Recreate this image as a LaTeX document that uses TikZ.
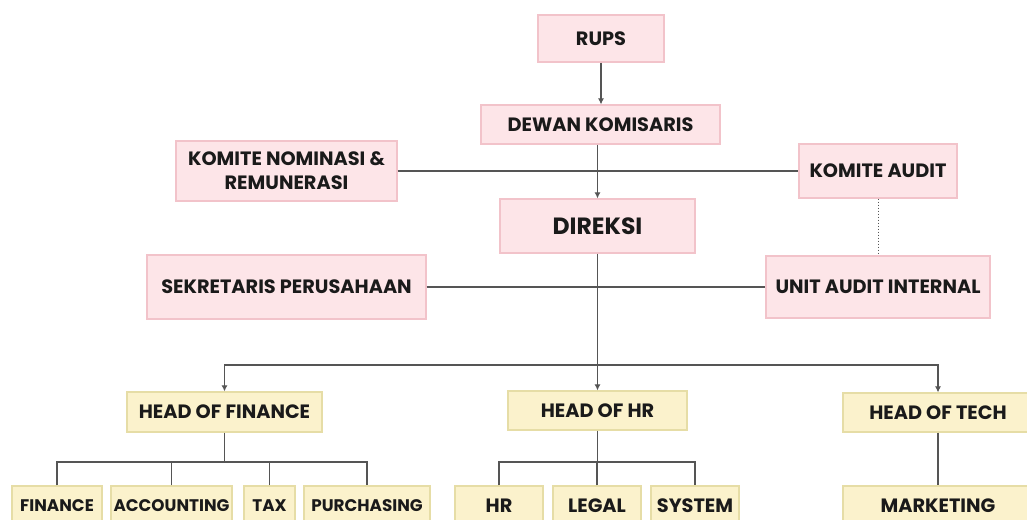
\documentclass[tikz,border=0pt]{standalone}
\usepackage{fontspec}
\setmainfont{Poppins}
\usetikzlibrary{arrows.meta}
\definecolor{pinkfill}{HTML}{FDE5E8}
\definecolor{pinkline}{HTML}{F2C3CA}
\definecolor{yelfill}{HTML}{FBF2CC}
\definecolor{yelline}{HTML}{E6DDA6}
\definecolor{conn}{HTML}{555555}
\definecolor{txt}{HTML}{1A1A1A}
\tikzset{
  box/.style={draw, line width=1.2pt, inner sep=0pt, align=center, text=txt},
  pinkbox/.style={box, fill=pinkfill, draw=pinkline},
  yelbox/.style={box, fill=yelfill, draw=yelline},
  fs/.style={font=\bfseries\fontsize{#1}{24}\selectfont},
  conline/.style={draw=conn, line width=1.1pt},
  arr/.style={conline, -{Latex[length=6pt,width=6pt]}},
}
\begin{document}
\begin{tikzpicture}[x=1pt,y=-1pt]
\useasboundingbox (0,0) rectangle (1027,519);
\clip (0,0) rectangle (1027,519);
\fill[white] (0,0) rectangle (1027,519);
% top pink boxes
\node[pinkbox, fs=19.3, minimum width=126pt, minimum height=47pt] (rups) at (601,38.5) {RUPS};
\node[pinkbox, fs=19.3, minimum width=239pt, minimum height=39pt] (dewan) at (600.5,124.5) {DEWAN KOMISARIS};
\node[pinkbox, fs=19.3, minimum width=221pt, minimum height=60pt] (knr) at (286.5,171) {KOMITE NOMINASI \&\\REMUNERASI};
\node[pinkbox, fs=19.3, minimum width=158pt, minimum height=54pt] (ka) at (878,171) {KOMITE AUDIT};
\node[pinkbox, fs=23.5, minimum width=195pt, minimum height=54pt] (direksi) at (597.5,226) {DIREKSI};
\node[pinkbox, fs=19.3, minimum width=279pt, minimum height=64pt] (sek) at (286.5,287) {SEKRETARIS PERUSAHAAN};
\node[pinkbox, fs=19.3, minimum width=224pt, minimum height=62pt] (uai) at (878,287) {UNIT AUDIT INTERNAL};
% heads
\node[yelbox, fs=19.3, minimum width=195pt, minimum height=40pt] (hof) at (224.5,412) {HEAD OF FINANCE};
\node[yelbox, fs=19.3, minimum width=179pt, minimum height=39pt] (hohr) at (597.5,410.5) {HEAD OF HR};
\node[yelbox, fs=19.3, minimum width=190pt, minimum height=39pt] (hot) at (938,412.5) {HEAD OF TECH};
% bottom row
\node[yelbox, fs=16.8, minimum width=90pt, minimum height=40pt] (finance) at (57,506) {FINANCE};
\node[yelbox, fs=16.8, minimum width=121pt, minimum height=40pt] (accounting) at (171.5,506) {ACCOUNTING};
\node[yelbox, fs=16.8, minimum width=51pt, minimum height=40pt] (tax) at (269.5,506) {TAX};
\node[yelbox, fs=16.8, minimum width=126pt, minimum height=40pt] (purchasing) at (367,506) {PURCHASING};
\node[yelbox, fs=19.3, minimum width=88pt, minimum height=40pt] (hr) at (499,506) {HR};
\node[yelbox, fs=19.3, minimum width=88pt, minimum height=40pt] (legal) at (597,506) {LEGAL};
\node[yelbox, fs=19.3, minimum width=88pt, minimum height=40pt] (system) at (695,506) {SYSTEM};
\node[yelbox, fs=19.3, minimum width=190pt, minimum height=40pt] (marketing) at (938,506) {MARKETING};
% connectors
\draw[arr] (rups.south) -- (rups.south |- dewan.north);
\draw[conline] (knr.east) -- (ka.west);
\draw[arr] (direksi.north |- dewan.south) -- (direksi.north);
\draw[conn, line width=1pt, dotted] (ka.south) -- (uai.north);
\draw[conline] (sek.east) -- (uai.west);
\draw[arr] (direksi.south) -- (hohr.north);
\coordinate (br) at (597.5,365);
\draw[arr] (br) -| (hof.north);
\draw[arr] (br) -| (hot.north);
% finance subtree
\coordinate (fbus) at (0,462);
\draw[conline] (hof.south) -- (hof.south |- fbus);
\draw[conline] (finance.north) |- (purchasing.north |- fbus) -- (purchasing.north);
\draw[conline] (accounting.north) -- (accounting.north |- fbus);
\draw[conline] (tax.north) -- (tax.north |- fbus);
% hr subtree
\draw[conline] (hohr.south) -- (hohr.south |- fbus);
\draw[conline] (hr.north) |- (system.north |- fbus) -- (system.north);
\draw[conline] (legal.north) -- (legal.north |- fbus);
% tech
\draw[conline] (hot.south) -- (marketing.north);
\end{tikzpicture}
\end{document}
